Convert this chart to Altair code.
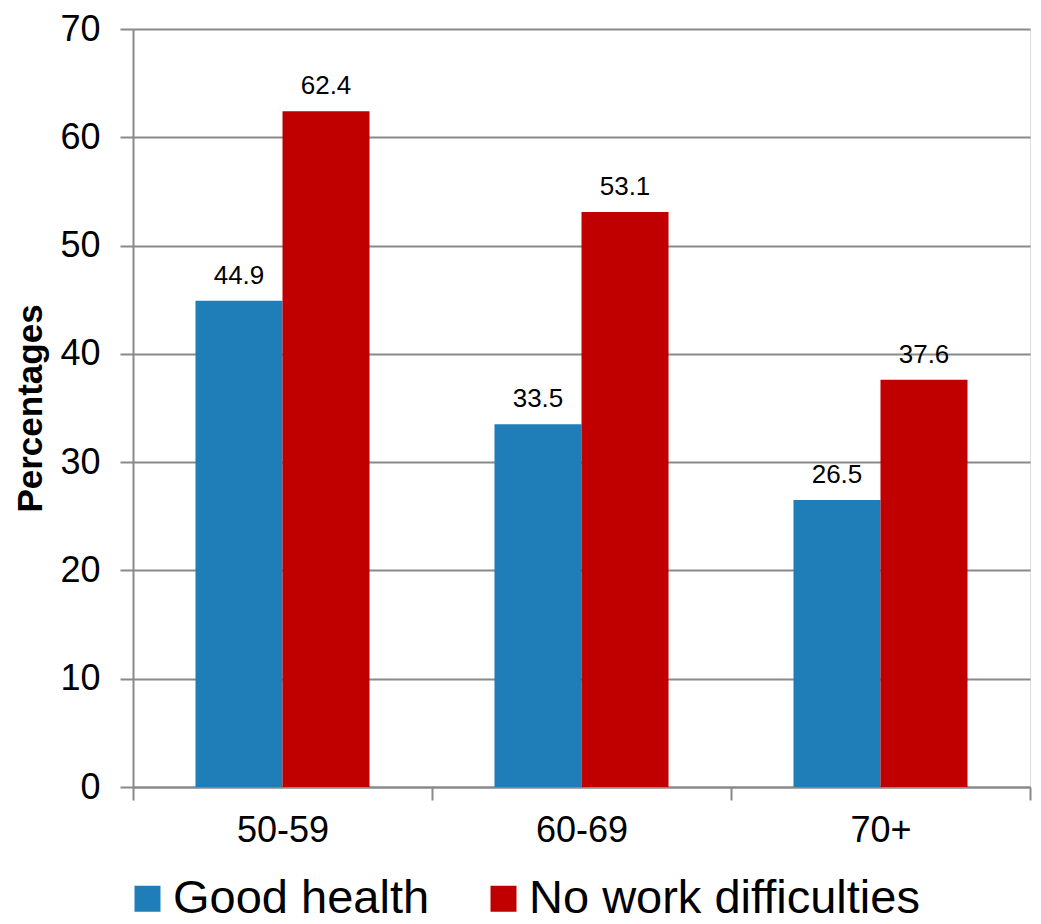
import altair as alt
import pandas as pd

categories = ["50-59", "60-69", "70+"]
series = ["Good health", "No work difficulties"]
good_health = [44.9, 33.5, 26.5]
no_work_difficulties = [62.4, 53.1, 37.6]
colors = ["#1F7EB8", "#C00000"]
y_ticks = [0, 10, 20, 30, 40, 50, 60, 70]

rows = []
for i, c in enumerate(categories):
    rows.append({"age": c, "series": series[0], "value": good_health[i]})
    rows.append({"age": c, "series": series[1], "value": no_work_difficulties[i]})
df = pd.DataFrame(rows)

W, H = 897, 758
FONT = "Liberation Sans"
GRAY = "#898989"

x = alt.X(
    "age:N", sort=categories, title=None,
    scale=alt.Scale(paddingInner=0, paddingOuter=0),
    axis=alt.Axis(labelAngle=0, labelFontSize=36, labelFont=FONT, labelColor="black",
                  labelPadding=13, tickBand="extent", tickSize=13, tickWidth=2,
                  tickColor=GRAY, domainColor=GRAY, domainWidth=2, grid=False),
)
xo = alt.XOffset("series:N", sort=series,
                 scale=alt.Scale(paddingOuter=0.718, paddingInner=0))
y = alt.Y(
    "value:Q", title="Percentages",
    scale=alt.Scale(domain=[0, 70], nice=False),
    axis=alt.Axis(values=y_ticks, labelFontSize=36, labelFont=FONT, labelColor="black",
                  labelPadding=20, tickSize=13, tickWidth=2, tickColor=GRAY,
                  domainColor=GRAY, domainWidth=2, grid=True, gridColor=GRAY,
                  gridWidth=2, gridOpacity=1, titleFont=FONT, titleFontSize=35,
                  titleFontWeight="bold", titleColor="black", titleX=-103, titleY=379,
                  titleAngle=270, titleAlign="center", titleBaseline="middle"),
)
color = alt.Color(
    "series:N",
    scale=alt.Scale(domain=series, range=colors),
    legend=alt.Legend(orient="none", legendX=-9, legendY=846, direction="horizontal",
                      title=None, symbolType="square", symbolSize=676,
                      symbolStrokeWidth=0, symbolOpacity=1, labelFontSize=47,
                      labelFont=FONT, labelColor="black", labelLimit=2000,
                      columnPadding=50, labelOffset=2, padding=0),
)

bars = alt.Chart(df).mark_bar(opacity=1).encode(x=x, xOffset=xo, y=y, color=color)
labels = alt.Chart(df).mark_text(dy=-17, baseline="alphabetic", fontSize=26,
                                 font=FONT, color="black").encode(
    x=alt.X("age:N", sort=categories), xOffset=xo, y=alt.Y("value:Q"),
    text=alt.Text("value:Q", format=".1f"),
)

chart = (
    alt.layer(bars, labels)
    .properties(width=W, height=H, autosize=alt.AutoSizeParams(type="none"),
                padding={"left": 125, "top": 21, "right": 3, "bottom": 127})
    .configure_view(stroke=None)
    .configure(background="white")
)

chart.save("out.html", embed_options={"renderer": "svg", "actions": False})
